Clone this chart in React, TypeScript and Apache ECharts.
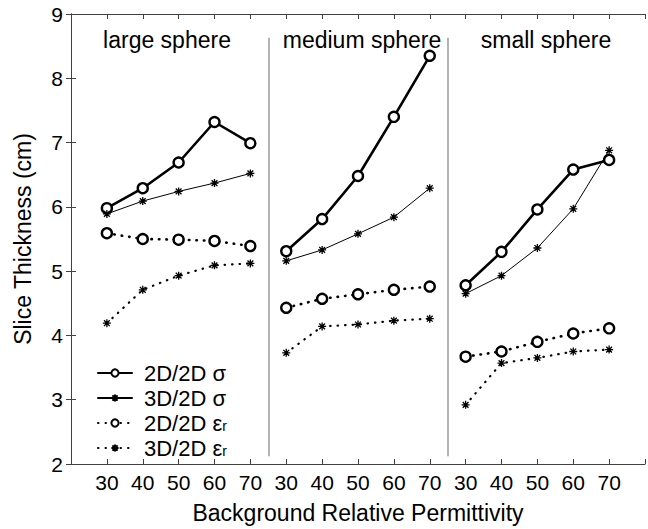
import React, { useEffect, useRef } from "react";
import * as echarts from "echarts";

const tickLabels = ["30", "40", "50", "60", "70"];
const groups = ["large sphere", "medium sphere", "small sphere"];
const seriesNames = ["2D/2D σ", "3D/2D σ", "2D/2D εr", "3D/2D εr"];

// values per group [large, medium, small], each 30..70
const sigma2D = [
  [5.98, 6.29, 6.69, 7.32, 6.99],
  [5.31, 5.81, 6.48, 7.4, 8.35],
  [4.78, 5.3, 5.96, 6.58, 6.73],
];
const sigma3D = [
  [5.89, 6.09, 6.24, 6.37, 6.52],
  [5.16, 5.33, 5.58, 5.84, 6.29],
  [4.65, 4.93, 5.36, 5.97, 6.88],
];
const eps2D = [
  [5.59, 5.5, 5.49, 5.47, 5.39],
  [4.43, 4.57, 4.64, 4.71, 4.76],
  [3.67, 3.75, 3.9, 4.03, 4.11],
];
const eps3D = [
  [4.19, 4.71, 4.93, 5.09, 5.12],
  [3.73, 4.14, 4.17, 4.23, 4.26],
  [2.92, 3.57, 3.65, 3.75, 3.78],
];

const FONT = "Liberation Sans, Arial, sans-serif";
const AXIS = "#404040";
const STAR =
  "path://M0,-5L0,5M-5,0L5,0M-3.6,-3.6L3.6,3.6M-3.6,3.6L3.6,-3.6";

export default function App() {
  const ref = useRef<HTMLDivElement>(null);
  useEffect(() => {
    if (!ref.current) return;
    const chart = echarts.init(ref.current, null, { renderer: "svg" });

    const styles = [
      { data: sigma2D, width: 2.6, type: "solid", symbol: "circle", size: 10 },
      { data: sigma3D, width: 1, type: "solid", symbol: STAR, size: 8 },
      { data: eps2D, width: 2.6, type: [0.5, 7], symbol: "circle", size: 10 },
      { data: eps3D, width: 2.2, type: [0.5, 7], symbol: STAR, size: 8 },
    ];

    const series: any[] = [];
    styles.forEach((s, si) => {
      s.data.forEach((vals, g) => {
        series.push({
          type: "line",
          name: seriesNames[si],
          data: vals.map((v, i) => [g * 5 + i + 1, v]),
          symbol: s.symbol,
          symbolSize: s.size,
          lineStyle: { color: "#000", width: s.width, type: s.type, cap: "round" },
          itemStyle: {
            color: s.symbol === "circle" ? "#fff" : "#000",
            borderColor: "#000",
            borderWidth: s.symbol === "circle" ? 2.4 : 1.3,
          },
          z: 3,
        });
      });
    });

    series.push({
      type: "line",
      name: "sep",
      data: [],
      silent: true,
      markLine: {
        silent: true,
        symbol: "none",
        label: { show: false },
        lineStyle: { color: "#9a9a9a", width: 1.5, type: "solid" },
        data: [
          [{ coord: [5.5, 2.12] }, { coord: [5.5, 8.63] }],
          [{ coord: [10.5, 2.12] }, { coord: [10.5, 8.63] }],
        ],
      },
    });

    const xLabel = (v: number) =>
      v >= 1 && v <= 15 ? tickLabels[(v - 1) % 5] : "";

    const baseX = {
      type: "value",
      min: 0,
      max: 16,
      interval: 1,
      splitLine: { show: false },
      axisLine: { lineStyle: { color: AXIS, width: 1 } },
      axisTick: { inside: true, length: 5, lineStyle: { color: AXIS } },
    };
    const baseY = {
      type: "value",
      min: 2,
      max: 9,
      interval: 1,
      splitLine: { show: false },
      axisLine: { show: true, lineStyle: { color: AXIS, width: 1 } },
      axisTick: { show: true, inside: true, length: 5, lineStyle: { color: AXIS } },
    };

    chart.setOption({
      animation: false,
      backgroundColor: "#fff",
      textStyle: { fontFamily: FONT },
      grid: { left: 71, top: 14, right: 3, bottom: 63 },
      xAxis: [
        {
          ...baseX,
          position: "bottom",
          name: "Background Relative Permittivity",
          nameLocation: "middle",
          nameGap: 37,
          nameTextStyle: { fontSize: 23, color: "#000", fontFamily: FONT },
          axisLabel: {
            formatter: xLabel,
            fontSize: 21,
            color: "#000",
            margin: 8,
            fontFamily: FONT,
          },
        },
        { ...baseX, position: "top", axisLabel: { show: false } },
      ],
      yAxis: [
        {
          ...baseY,
          position: "left",
          name: "Slice Thickness (cm)",
          nameLocation: "middle",
          nameGap: 37,
          nameTextStyle: { fontSize: 23, color: "#000", fontFamily: FONT },
          axisLabel: { fontSize: 21, color: "#000", margin: 8, fontFamily: FONT },
        },
        { ...baseY, position: "right", axisLabel: { show: false } },
      ],
      legend: {
        data: seriesNames,
        orient: "vertical",
        left: 97,
        top: 362,
        itemWidth: 34,
        itemHeight: 9,
        itemGap: 3,
        padding: 0,
        selectedMode: false,
        formatter: (name: string) =>
          name.endsWith("εr") ? `{m|${name.slice(0, -1)}}{sub|r}` : `{m|${name}}`,
        textStyle: {
          fontFamily: FONT,
          fontSize: 22,
          lineHeight: 20,
          color: "#000",
          padding: [0, 0, 0, 7],
          rich: {
            m: { fontSize: 22, lineHeight: 20, fontFamily: FONT, color: "#000" },
            sub: {
              fontSize: 14,
              lineHeight: 10,
              verticalAlign: "bottom",
              fontFamily: FONT,
              color: "#000",
            },
          },
        },
      },
      graphic: [
        { type: "text", x: 167, y: 40, style: { text: groups[0] } },
        { type: "text", x: 362, y: 40, style: { text: groups[1] } },
        { type: "text", x: 546, y: 40, style: { text: groups[2] } },
      ].map((g) => ({
        ...g,
        style: {
          ...g.style,
          fontSize: 23,
          fontFamily: FONT,
          fill: "#000",
          textAlign: "center",
          textVerticalAlign: "middle",
        },
      })),
      series,
    });

    return () => chart.dispose();
  }, []);

  return (
    <div
      ref={ref}
      style={{ position: "absolute", left: 0, top: 0, width: 648, height: 529 }}
    />
  );
}
